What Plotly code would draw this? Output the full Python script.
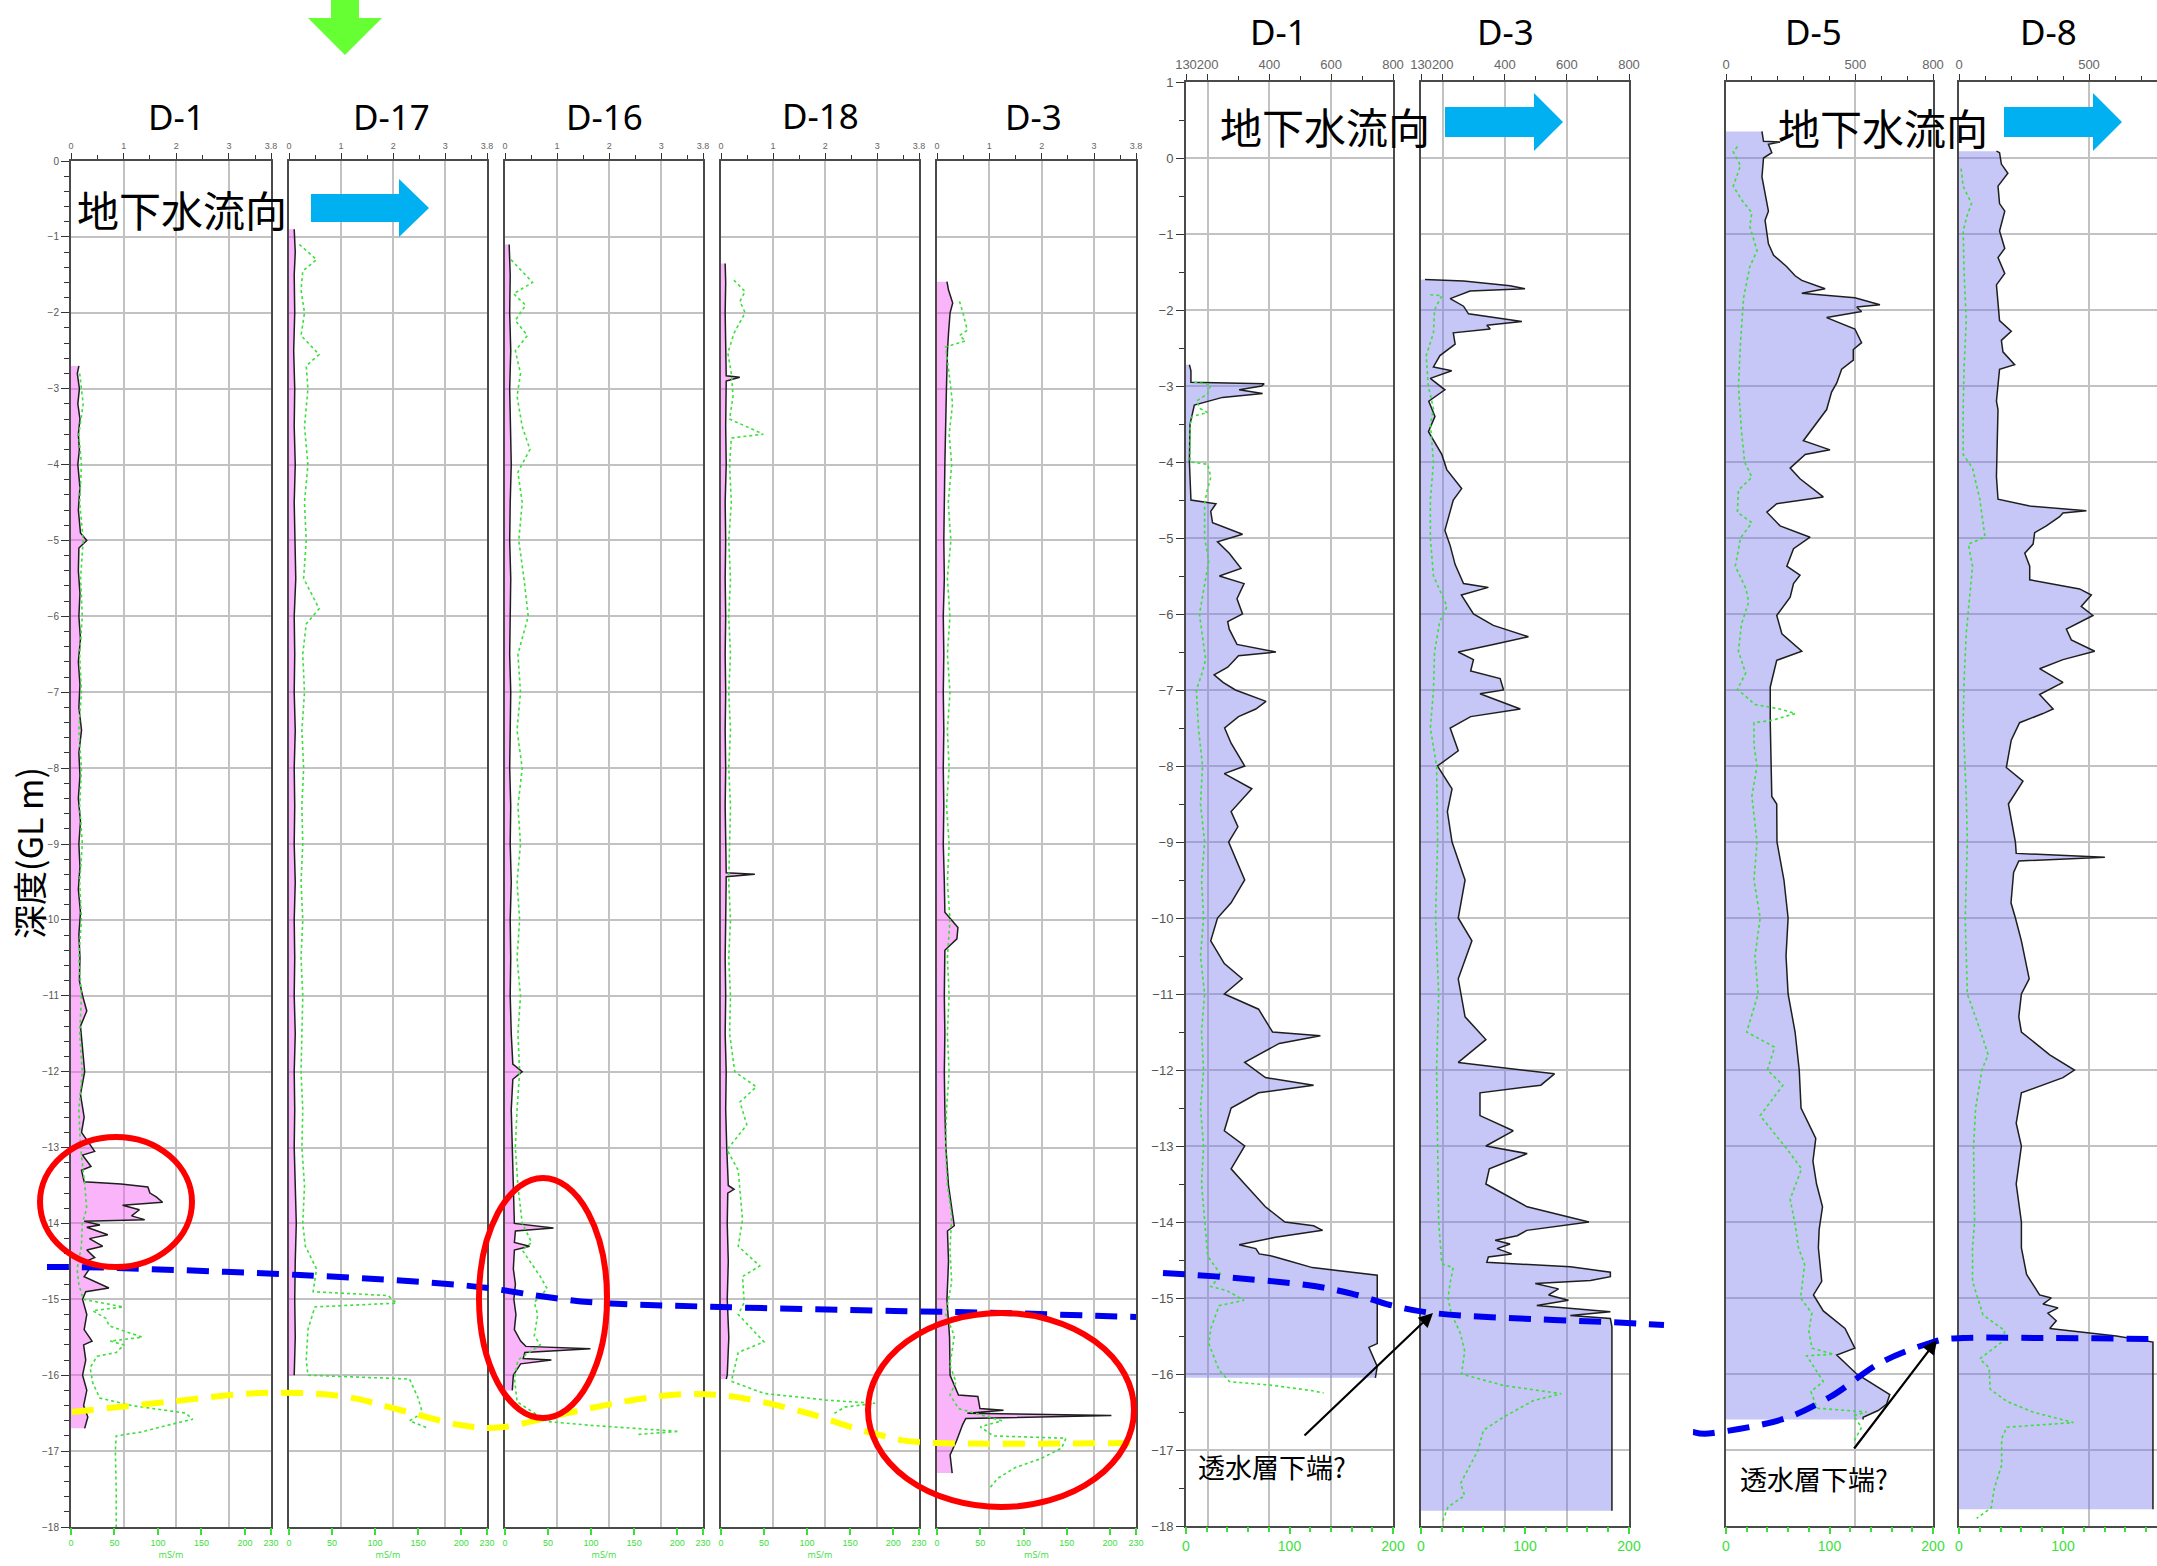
import plotly.graph_objects as go

W, H = 2157, 1566

# ======================= DATA =======================
# Left group (5 wells): top axis 0-3.8 (black line, pink fill), bottom axis 0-230 mS/m (green)
a1_res_depth = [-2.70,-2.80,-3.00,-3.20,-3.40,-3.60,-3.80,-4.00,-4.30,-4.60,-4.90,-5.00,-5.10,-5.40,-5.70,-6.00,-6.30,-6.60,-6.90,-7.20,-7.50,-7.80,-8.10,-8.40,-8.70,-9.00,-9.30,-9.60,-9.90,-10.20,-10.50,-10.80,-11.00,-11.20,-11.40,-11.70,-12.00,-12.30,-12.60,-12.80,-13.05,-13.10,-13.25,-13.30,-13.45,-13.48,-13.52,-13.60,-13.65,-13.72,-13.76,-13.82,-13.90,-13.95,-13.97,-14.02,-14.05,-14.15,-14.20,-14.30,-14.35,-14.45,-14.50,-14.60,-14.70,-14.85,-14.90,-15.00,-15.20,-15.40,-15.55,-15.60,-15.80,-16.00,-16.20,-16.40,-16.55,-16.70]
a1_res_val = [0.15,0.12,0.16,0.13,0.17,0.14,0.16,0.13,0.17,0.14,0.18,0.30,0.15,0.14,0.17,0.15,0.18,0.14,0.17,0.15,0.20,0.15,0.17,0.14,0.18,0.15,0.17,0.14,0.18,0.15,0.17,0.16,0.22,0.30,0.18,0.22,0.26,0.18,0.25,0.20,0.45,0.22,0.38,0.20,0.25,0.95,1.46,1.50,1.62,1.74,0.98,1.30,1.15,1.40,0.25,0.55,0.30,0.70,0.35,0.60,0.30,0.45,0.28,0.35,0.25,0.72,0.28,0.22,0.30,0.25,0.40,0.24,0.28,0.22,0.30,0.24,0.32,0.26]
a1_con_depth = [-2.80,-3.20,-3.60,-4.00,-4.50,-5.00,-5.50,-6.00,-6.50,-7.00,-7.50,-8.00,-8.50,-9.00,-9.50,-10.00,-10.50,-11.00,-11.50,-12.00,-12.50,-13.00,-13.50,-13.80,-14.00,-14.30,-14.60,-14.80,-15.00,-15.10,-15.15,-15.25,-15.35,-15.50,-15.55,-15.60,-15.70,-15.75,-15.90,-16.10,-16.30,-16.40,-16.50,-16.58,-16.62,-16.75,-16.80,-17.00,-17.50,-18.00]
a1_con_val = [10,14,9,12,10,14,11,13,10,12,9,12,10,13,10,12,9,12,10,13,9,11,16,18,13,12,7,9,14,60,25,40,44,82,45,61,52,30,22,25,33,70,132,140,125,80,52,51,52,52]

a17_res_depth = [-0.90,-1.20,-1.50,-2.00,-2.50,-3.00,-3.50,-4.00,-4.50,-5.00,-5.50,-6.00,-6.50,-7.00,-7.50,-8.00,-8.50,-9.00,-9.50,-10.00,-10.50,-11.00,-11.50,-12.00,-12.50,-13.00,-13.50,-14.00,-14.50,-15.00,-15.50,-16.00]
a17_res_val = [0.10,0.12,0.10,0.11,0.09,0.11,0.10,0.12,0.10,0.11,0.13,0.10,0.11,0.10,0.12,0.10,0.11,0.10,0.12,0.10,0.11,0.10,0.12,0.10,0.11,0.10,0.12,0.14,0.12,0.11,0.12,0.10]
a17_con_depth = [-1.10,-1.30,-1.45,-1.70,-2.00,-2.30,-2.55,-2.70,-3.00,-3.50,-4.00,-4.50,-5.00,-5.50,-5.90,-6.10,-6.50,-7.00,-7.50,-8.00,-8.50,-9.00,-9.50,-10.00,-10.50,-11.00,-11.50,-12.00,-12.50,-13.00,-13.50,-14.00,-14.30,-14.60,-14.90,-14.95,-15.05,-15.10,-15.40,-15.80,-16.00,-16.05,-16.30,-16.50,-16.60,-16.70]
a17_con_val = [12,32,16,14,18,14,35,20,22,18,22,18,20,17,35,20,16,18,15,17,15,16,14,16,14,16,15,14,16,15,18,16,19,32,28,115,125,30,22,20,22,140,150,155,140,162]

a16_res_depth = [-1.10,-1.50,-2.00,-2.50,-3.00,-3.50,-4.00,-4.50,-5.00,-5.50,-6.00,-6.50,-7.00,-7.50,-8.00,-8.50,-9.00,-9.50,-10.00,-10.50,-11.00,-11.50,-11.90,-12.00,-12.10,-12.50,-13.00,-13.50,-14.00,-14.06,-14.10,-14.25,-14.30,-14.35,-14.60,-14.80,-15.00,-15.20,-15.40,-15.55,-15.62,-15.65,-15.70,-15.78,-15.80,-15.85,-16.00,-16.20]
a16_res_val = [0.08,0.10,0.09,0.11,0.09,0.10,0.12,0.10,0.09,0.11,0.10,0.09,0.11,0.10,0.09,0.11,0.10,0.12,0.10,0.11,0.10,0.12,0.15,0.33,0.15,0.12,0.14,0.16,0.18,0.93,0.20,0.18,0.47,0.18,0.16,0.20,0.17,0.21,0.18,0.30,0.40,1.64,0.38,0.35,0.89,0.30,0.16,0.14]
a16_con_depth = [-1.30,-1.60,-1.75,-1.90,-2.10,-2.30,-2.50,-2.80,-3.10,-3.50,-3.80,-4.10,-4.50,-5.00,-5.50,-6.00,-6.50,-7.00,-7.50,-8.00,-8.50,-9.00,-9.50,-10.00,-10.50,-11.00,-11.50,-12.00,-12.50,-13.00,-13.50,-14.00,-14.25,-14.35,-14.70,-14.86,-15.04,-15.20,-15.48,-15.60,-15.80,-16.04,-16.35,-16.61,-16.66,-16.74,-16.78]
a16_con_val = [7,32,10,24,12,26,12,18,14,20,29,15,20,16,22,27,15,18,14,20,15,18,14,17,14,18,15,17,14,12,15,20,31,20,41,49,34,38,34,41,15,11,14,49,99,202,155]

a18_res_depth = [-1.35,-1.60,-2.00,-2.50,-2.83,-2.85,-2.90,-3.50,-4.00,-4.50,-5.00,-5.50,-6.00,-6.50,-7.00,-7.50,-8.00,-8.50,-9.00,-9.38,-9.40,-9.43,-10.00,-10.50,-11.00,-11.50,-12.00,-12.50,-13.00,-13.50,-13.55,-13.60,-14.00,-14.50,-15.00,-15.50,-16.00,-16.05]
a18_res_val = [0.08,0.09,0.08,0.10,0.10,0.36,0.10,0.09,0.10,0.08,0.09,0.08,0.09,0.08,0.09,0.08,0.09,0.08,0.09,0.10,0.65,0.10,0.09,0.08,0.09,0.08,0.10,0.09,0.11,0.14,0.25,0.13,0.12,0.14,0.12,0.15,0.12,0.10]
a18_con_depth = [-1.57,-1.72,-1.85,-2.00,-2.27,-2.53,-2.80,-3.10,-3.40,-3.60,-3.65,-4.00,-4.50,-5.00,-5.50,-6.00,-6.50,-7.00,-7.50,-8.00,-8.50,-9.00,-9.50,-10.00,-10.50,-11.00,-11.50,-12.00,-12.20,-12.40,-12.70,-13.03,-13.30,-13.95,-14.30,-14.56,-14.70,-15.04,-15.20,-15.56,-15.70,-16.08,-16.24,-16.30,-16.33,-16.37,-16.42,-16.52]
a18_con_val = [15,28,22,28,15,8,12,14,10,49,12,10,12,9,11,9,11,9,11,9,11,10,9,11,9,11,10,16,41,22,30,7,20,25,20,45,25,27,20,50,20,12,50,100,124,179,144,129]

a3_res_depth = [-1.59,-1.70,-1.87,-2.00,-2.27,-2.50,-3.00,-3.50,-4.00,-4.50,-5.00,-5.50,-6.00,-6.50,-7.00,-7.50,-8.00,-8.50,-9.00,-9.50,-9.90,-10.10,-10.25,-10.40,-11.00,-11.50,-12.00,-12.50,-13.00,-13.50,-14.03,-14.10,-14.50,-15.00,-15.50,-16.00,-16.26,-16.28,-16.44,-16.46,-16.50,-16.53,-16.57,-16.65,-16.87,-17.05,-17.29]
a3_res_val = [0.19,0.22,0.30,0.25,0.22,0.20,0.18,0.16,0.15,0.14,0.13,0.14,0.12,0.13,0.12,0.13,0.12,0.13,0.12,0.14,0.15,0.40,0.38,0.15,0.14,0.15,0.14,0.15,0.17,0.22,0.33,0.20,0.22,0.19,0.24,0.25,0.41,0.78,0.82,1.27,0.58,3.33,0.55,0.49,0.37,0.25,0.29]
a3_con_depth = [-1.85,-2.00,-2.23,-2.30,-2.37,-2.45,-2.80,-3.20,-3.60,-4.00,-4.50,-5.00,-5.50,-6.00,-6.50,-7.00,-7.50,-8.00,-8.50,-9.00,-9.50,-10.00,-10.50,-11.00,-11.50,-12.00,-12.50,-13.03,-13.50,-13.90,-14.34,-14.77,-15.20,-15.48,-15.87,-16.09,-16.26,-16.44,-16.60,-16.68,-16.80,-16.83,-16.96,-17.10,-17.22,-17.36,-17.50]
a3_con_val = [26,30,35,26,33,10,14,18,14,17,13,16,12,15,12,15,12,14,11,14,12,15,12,14,12,14,11,10,12,17,15,17,10,20,15,22,15,25,75,50,65,149,144,120,90,70,60]

# Middle group (2 wells): top axis 130-800, bottom axis 0-200 mS/m, depth +1..-18
b1_res_depth = [-2.72,-2.80,-2.95,-2.97,-3.00,-3.05,-3.10,-3.15,-3.25,-3.50,-4.00,-4.50,-4.55,-4.65,-4.80,-4.95,-5.05,-5.20,-5.40,-5.50,-5.60,-5.80,-6.00,-6.10,-6.20,-6.40,-6.50,-6.55,-6.70,-6.80,-6.90,-7.00,-7.15,-7.25,-7.35,-7.50,-7.70,-8.00,-8.10,-8.30,-8.60,-8.80,-9.00,-9.30,-9.50,-9.80,-10.00,-10.30,-10.60,-10.80,-11.00,-11.20,-11.50,-11.55,-11.65,-11.90,-12.10,-12.20,-12.30,-12.50,-12.80,-13.00,-13.30,-13.50,-13.80,-14.00,-14.05,-14.11,-14.20,-14.30,-14.35,-14.42,-14.45,-14.50,-14.60,-14.70,-15.60,-15.65,-15.90,-16.05]
b1_res_val = [141,146,146,383,375,302,378,248,157,143,141,146,227,210,216,313,232,270,308,238,318,295,313,265,270,295,421,300,265,221,250,290,389,356,300,255,276,320,254,343,276,298,268,298,320,276,232,210,254,312,254,365,410,565,432,320,387,543,365,276,254,320,276,320,387,450,543,572,420,302,356,367,410,453,539,749,749,722,749,743]
b1_con_depth = [-2.95,-2.98,-3.10,-3.20,-3.30,-3.35,-3.40,-3.50,-4.00,-4.03,-4.20,-4.40,-4.55,-5.00,-5.30,-5.60,-6.00,-6.30,-6.60,-6.80,-7.00,-7.50,-8.00,-8.50,-9.00,-9.50,-10.00,-10.50,-11.00,-11.50,-12.00,-12.50,-13.00,-13.50,-14.00,-14.45,-14.70,-14.85,-14.90,-15.03,-15.10,-15.40,-15.60,-15.95,-16.10,-16.15,-16.22,-16.25]
b1_con_val = [8,24,21,10,14,21,6,4,4,21,24,20,18,18,22,18,13,16,19,15,10,12,16,14,18,15,17,14,18,15,17,14,17,15,18,21,34,24,39,56,32,24,22,32,42,84,122,133]

b3_res_depth = [-1.60,-1.62,-1.68,-1.72,-1.75,-1.85,-1.95,-2.05,-2.15,-2.20,-2.25,-2.30,-2.45,-2.60,-2.75,-2.80,-2.90,-3.05,-3.20,-3.40,-3.60,-3.90,-4.10,-4.35,-4.50,-4.90,-5.10,-5.35,-5.60,-5.65,-5.75,-6.00,-6.15,-6.30,-6.40,-6.50,-6.60,-6.75,-6.85,-7.00,-7.05,-7.25,-7.35,-7.50,-7.80,-8.00,-8.30,-8.60,-9.00,-9.50,-10.00,-10.30,-10.80,-11.30,-11.60,-11.90,-12.05,-12.20,-12.30,-12.60,-12.80,-13.00,-13.10,-13.30,-13.50,-13.80,-14.00,-14.11,-14.18,-14.24,-14.29,-14.35,-14.42,-14.46,-14.53,-14.59,-14.66,-14.72,-14.77,-14.81,-14.88,-14.96,-15.03,-15.10,-15.18,-15.23,-15.27,-15.38,-17.80]
b3_res_val = [143,267,417,465,288,224,267,283,455,342,353,234,240,191,170,229,160,207,155,175,154,197,213,261,234,207,224,240,267,347,260,299,363,476,363,250,299,290,385,396,320,450,290,224,250,183,230,215,230,272,250,294,250,272,339,250,560,516,320,320,427,339,472,350,339,472,671,471,440,369,417,375,422,347,342,611,740,740,676,498,573,541,605,503,740,611,740,745,745]
b3_con_depth = [-1.80,-1.81,-2.00,-2.30,-2.60,-3.00,-3.30,-3.50,-4.00,-4.50,-5.00,-5.50,-5.90,-6.10,-6.50,-7.00,-7.50,-8.00,-9.00,-10.00,-11.00,-12.00,-13.00,-14.00,-14.55,-14.60,-14.80,-15.00,-15.20,-15.47,-15.70,-16.00,-16.15,-16.26,-16.35,-16.57,-16.74,-17.00,-17.44,-17.60,-17.75,-17.97]
b3_con_val = [9,20,13,12,5,7,12,9,12,9,9,12,25,18,13,12,9,15,16,14,17,15,16,17,20,31,28,26,29,38,42,39,79,135,108,79,60,55,38,42,26,20]

# Right group (2 wells): top axis 0-800, bottom axis 0-200 mS/m, depth +1..-18
c5_res_depth = [0.35,0.22,0.21,0.18,0.07,0.00,-0.25,-0.70,-0.82,-1.13,-1.28,-1.43,-1.55,-1.61,-1.72,-1.78,-1.84,-1.93,-1.96,-2.02,-2.10,-2.25,-2.43,-2.52,-2.66,-2.78,-2.96,-3.08,-3.31,-3.55,-3.72,-3.84,-3.90,-4.08,-4.22,-4.46,-4.55,-4.66,-4.84,-4.99,-5.14,-5.37,-5.49,-5.60,-5.78,-6.02,-6.26,-6.49,-6.61,-6.96,-7.08,-7.43,-8.40,-8.50,-9.00,-9.50,-10.00,-10.50,-11.00,-11.50,-12.00,-12.50,-12.90,-13.20,-13.50,-13.80,-14.10,-14.34,-14.78,-14.96,-15.17,-15.40,-15.66,-15.75,-16.00,-16.23,-16.27,-16.40,-16.48,-16.57,-16.60]
c5_res_val = [139,145,209,164,177,145,139,164,151,164,184,235,267,293,383,293,498,595,505,524,389,498,524,492,492,447,428,408,389,338,299,402,306,248,286,376,196,158,209,325,261,235,286,261,248,196,216,293,196,171,171,171,177,196,197,224,240,232,240,267,283,290,347,336,350,373,360,357,370,338,376,460,498,428,505,614,633,620,588,530,530]
c5_con_depth = [0.15,0.08,-0.10,-0.37,-0.55,-0.72,-0.90,-1.13,-1.22,-1.43,-1.84,-2.43,-3.00,-3.60,-4.00,-4.20,-4.37,-4.66,-4.80,-5.00,-5.37,-5.66,-5.84,-6.13,-6.49,-6.78,-6.99,-7.19,-7.25,-7.31,-7.40,-7.43,-7.72,-8.00,-8.40,-9.00,-9.50,-10.00,-10.50,-11.00,-11.50,-11.70,-12.00,-12.20,-12.60,-13.06,-13.30,-13.70,-14.05,-14.34,-14.56,-14.78,-15.00,-15.20,-15.43,-15.66,-15.74,-15.76,-16.10,-16.23,-16.45,-16.50,-16.55,-16.70,-16.90]
c5_con_val = [11,7,14,7,15,25,23,28,30,23,17,14,12,15,18,25,12,11,25,14,9,19,22,15,12,19,11,28,52,67,44,27,27,30,25,30,27,33,28,31,20,47,40,55,33,60,73,62,67,70,76,74,72,83,80,83,104,78,94,82,88,136,123,131,123]

c8_res_depth = [0.09,0.07,-0.08,-0.20,-0.37,-0.60,-0.70,-0.96,-1.19,-1.31,-1.52,-1.67,-2.14,-2.28,-2.40,-2.55,-2.72,-2.78,-3.20,-3.31,-4.19,-4.49,-4.58,-4.64,-4.67,-4.72,-4.84,-4.93,-5.08,-5.20,-5.37,-5.55,-5.67,-5.75,-5.90,-6.02,-6.20,-6.34,-6.49,-6.60,-6.72,-6.90,-7.06,-7.25,-7.31,-7.43,-7.66,-8.02,-8.20,-8.40,-8.50,-9.00,-9.15,-9.20,-9.25,-9.40,-9.80,-10.00,-10.30,-10.80,-11.00,-11.30,-11.50,-11.80,-12.00,-12.10,-12.30,-12.70,-13.00,-13.50,-14.00,-14.34,-14.69,-14.96,-15.00,-15.08,-15.13,-15.20,-15.30,-15.40,-15.50,-15.58,-17.78]
c8_res_val = [144,156,163,188,150,156,176,156,176,150,176,144,156,201,163,169,214,156,144,150,144,150,272,490,400,387,336,291,285,253,272,272,464,509,470,515,413,432,522,400,310,400,310,362,323,233,201,182,246,208,190,217,220,561,230,210,200,217,240,270,240,230,240,349,444,400,240,220,240,220,240,240,260,310,355,323,381,342,374,349,605,746,746]
c8_con_depth = [-0.14,-0.37,-0.60,-0.75,-0.96,-1.55,-2.14,-2.72,-3.31,-3.90,-4.08,-4.49,-4.99,-5.08,-5.37,-6.25,-6.84,-7.43,-8.40,-9.00,-10.00,-11.00,-11.50,-11.80,-12.00,-12.50,-13.00,-14.00,-14.34,-14.78,-15.22,-15.43,-15.57,-15.80,-15.92,-16.20,-16.36,-16.50,-16.64,-16.70,-16.85,-17.20,-17.50,-17.76,-17.90]
c8_con_val = [2,4,12,8,4,5,7,5,4,4,13,20,25,9,13,7,5,4,7,8,6,8,21,28,22,16,14,15,13,13,23,44,42,20,29,30,46,71,110,46,41,41,34,31,17]

# tick labels
a_top_ticks = [0, 1, 2, 3, 3.8]
a_bot_ticks = [0, 50, 100, 150, 200, 230]
b_top_ticks = [130, 200, 400, 600, 800]
c_top_ticks = [0, 500, 800]
bc_bot_ticks = [0, 100, 200]

# ======================= LAYOUT HELPERS =======================
def fx(x):
    return x / W

def fy(y):
    return 1 - y / H

GREEN = '#3BE03B'
GRID = '#C2C2C2'
FRAME = '#4A4A4A'

groups = {
    'A': dict(top_range=[0, 3.8], top_ticks=a_top_ticks, top_text=['0', '1', '2', '3', '3.8'],
              top_minor=[0.5, 1.5, 2.5, 3.5], top_font=9,
              bot_range=[0, 230], bot_ticks=a_bot_ticks, bot_minor=None, bot_font=9, bot_title=True,
              y_range=[-18, 0], y_px=(161, 1527), y_minor=0.2, y_font=10,
              fill='rgba(245,90,245,0.45)'),
    'B': dict(top_range=[130, 800], top_ticks=b_top_ticks, top_text=[str(v) for v in b_top_ticks],
              top_minor=[300, 500, 700], top_font=13,
              bot_range=[0, 200], bot_ticks=bc_bot_ticks, bot_minor=20, bot_font=14, bot_title=False,
              y_range=[-18, 1], y_px=(82, 1526), y_minor=0.5, y_font=13,
              fill='rgba(120,120,235,0.42)'),
    'C': dict(top_range=[0, 800], top_ticks=c_top_ticks, top_text=[str(v) for v in c_top_ticks],
              top_minor=[100, 200, 300, 400, 600, 700], top_font=13,
              bot_range=[0, 200], bot_ticks=bc_bot_ticks, bot_minor=20, bot_font=14, bot_title=False,
              y_range=[-18, 1], y_px=(82, 1526), y_minor=0.5, y_font=13,
              fill='rgba(120,120,235,0.42)'),
}

panels = [
    dict(name='D-1', g='A', x=(71, 271), ylab=True, t=(176, 116), r=(a1_res_depth, a1_res_val), c=(a1_con_depth, a1_con_val)),
    dict(name='D-17', g='A', x=(289, 487), ylab=False, t=(391, 117), r=(a17_res_depth, a17_res_val), c=(a17_con_depth, a17_con_val)),
    dict(name='D-16', g='A', x=(505, 703), ylab=False, t=(604, 117), r=(a16_res_depth, a16_res_val), c=(a16_con_depth, a16_con_val)),
    dict(name='D-18', g='A', x=(721, 919), ylab=False, t=(820, 115), r=(a18_res_depth, a18_res_val), c=(a18_con_depth, a18_con_val)),
    dict(name='D-3', g='A', x=(937, 1136), ylab=False, t=(1033, 117), r=(a3_res_depth, a3_res_val), c=(a3_con_depth, a3_con_val)),
    dict(name='D-1', g='B', x=(1186, 1393), ylab=True, t=(1278, 31), r=(b1_res_depth, b1_res_val), c=(b1_con_depth, b1_con_val)),
    dict(name='D-3', g='B', x=(1421, 1629), ylab=False, t=(1506, 31), r=(b3_res_depth, b3_res_val), c=(b3_con_depth, b3_con_val)),
    dict(name='D-5', g='C', x=(1726, 1933), ylab=False, t=(1813, 31), r=(c5_res_depth, c5_res_val), c=(c5_con_depth, c5_con_val)),
    dict(name='D-8', g='C', x=(1959, 2167), ylab=False, t=(2048, 31), r=(c8_res_depth, c8_res_val), c=(c8_con_depth, c8_con_val)),
]

fig = go.Figure()
layout = {}
annotations = []

for i, p in enumerate(panels, start=1):
    g = groups[p['g']]
    it, ib = 2 * i - 1, 2 * i
    xt, xb, yy = f'x{it}', f'x{ib}', f'y{i}'
    kt = 'xaxis' if it == 1 else f'xaxis{it}'
    kb = f'xaxis{ib}'
    ky = 'yaxis' if i == 1 else f'yaxis{i}'

    x0, x1 = p['x']
    top_range = list(g['top_range'])
    bot_range = list(g['bot_range'])
    clipped = x1 > W
    if clipped:  # panel runs off the right edge of the picture
        frac = (W - x0) / (x1 - x0)
        top_range[1] = top_range[0] + (top_range[1] - top_range[0]) * frac
        bot_range[1] = bot_range[0] + (bot_range[1] - bot_range[0]) * frac
        x1 = W
    dom = [fx(x0), fx(x1)]
    ydom = [fy(g['y_px'][1]), fy(g['y_px'][0])]

    tvals = [v for v in g['top_ticks'] if v <= top_range[1]]
    ttext = [t for v, t in zip(g['top_ticks'], g['top_text']) if v <= top_range[1]]
    bvals = [v for v in g['bot_ticks'] if v <= bot_range[1]]

    layout[kt] = dict(domain=dom, range=top_range, side='top', anchor=yy,
                      showgrid=True, gridcolor=GRID, gridwidth=1.5,
                      tickmode='array', tickvals=tvals, ticktext=ttext, tickangle=0,
                      ticks='outside', ticklen=6, tickcolor='#333', tickwidth=1,
                      tickfont=dict(size=g['top_font'], color='#666', family='Liberation Sans'),
                      showline=True, linecolor=FRAME, linewidth=2, mirror=True,
                      zeroline=False,
                      minor=dict(tickvals=g['top_minor'], ticks='outside', ticklen=4,
                                 tickcolor='#333', showgrid=False))
    bminor = dict(ticks='outside', ticklen=5, tickcolor=GREEN, showgrid=False)
    if g['bot_minor']:
        bminor['dtick'] = g['bot_minor']
    else:
        bminor['ticks'] = ''
    bax = dict(domain=dom, range=bot_range, side='bottom', anchor=yy, overlaying=xt,
               showgrid=False, zeroline=False, showline=False,
               tickmode='array', tickvals=bvals, tickangle=0,
               ticks='outside', ticklen=7, tickcolor=GREEN, tickwidth=1.5,
               tickfont=dict(size=g['bot_font'], color=GREEN, family='Liberation Sans'),
               minor=bminor)
    if g['bot_title']:
        bax['title'] = dict(text='mS/m', font=dict(size=g['bot_font'], color=GREEN), standoff=3)
    layout[kb] = bax
    ytv = list(range(int(g['y_range'][0]), int(g['y_range'][1]) + 1))
    ya = dict(domain=ydom, range=g['y_range'], anchor=xt,
              showgrid=True, gridcolor=GRID, gridwidth=1.5,
              tickmode='array', tickvals=ytv,
              showline=True, linecolor=FRAME, linewidth=2, mirror=not clipped,
              zeroline=False, showticklabels=p['ylab'])
    if p['ylab']:
        ya.update(ticks='outside', ticklen=8, tickcolor='#333',
                  tickfont=dict(size=g['y_font'], color='#555', family='Liberation Sans'),
                  minor=dict(dtick=g['y_minor'], ticks='outside', ticklen=5, tickcolor='#333', showgrid=False))
    else:
        ya.update(ticks='')
    layout[ky] = ya

    rd, rv = p['r']
    cd, cv = p['c']
    fig.add_trace(go.Scatter(x=rv, y=rd, xaxis=xt, yaxis=yy, mode='lines',
                             line=dict(color='#1E1E1E', width=1.5), fill='tozerox',
                             fillcolor=g['fill'], hoverinfo='skip', showlegend=False))
    fig.add_trace(go.Scatter(x=cv, y=cd, xaxis=xb, yaxis=yy, mode='lines',
                             line=dict(color=GREEN, width=1.6, dash='dot'),
                             hoverinfo='skip', showlegend=False))

    annotations.append(dict(text=p['name'], x=fx(p['t'][0]), y=fy(p['t'][1]), xref='paper', yref='paper',
                            showarrow=False, xanchor='center', yanchor='middle',
                            font=dict(size=35, color='black', family='Noto Sans')))

# ---------- annotation overlay geometry (pixels) ----------
def smooth_path(pts):
    P = [(fx(x), fy(y)) for x, y in pts]
    d = f"M {P[0][0]:.5f},{P[0][1]:.5f}"
    for k in range(len(P) - 1):
        p0 = P[k - 1] if k > 0 else P[k]
        p1, p2 = P[k], P[k + 1]
        p3 = P[k + 2] if k + 2 < len(P) else P[k + 1]
        c1 = (p1[0] + (p2[0] - p0[0]) / 6, p1[1] + (p2[1] - p0[1]) / 6)
        c2 = (p2[0] - (p3[0] - p1[0]) / 6, p2[1] - (p3[1] - p1[1]) / 6)
        d += f" C {c1[0]:.5f},{c1[1]:.5f} {c2[0]:.5f},{c2[1]:.5f} {p2[0]:.5f},{p2[1]:.5f}"
    return d

def poly_path(pts):
    return 'M ' + ' L '.join(f"{fx(x):.5f},{fy(y):.5f}" for x, y in pts) + ' Z'

blue_a = [(47, 1267), (117, 1268), (300, 1275), (460, 1285), (547, 1297), (603, 1303), (720, 1307), (894, 1311), (1002, 1313), (1136, 1317)]
blue_b = [(1163, 1273), (1223, 1277), (1307, 1285), (1357, 1295), (1390, 1305), (1433, 1313), (1507, 1318), (1607, 1322), (1664, 1325)]
blue_c = [(1693, 1432), (1713, 1433), (1780, 1420), (1830, 1397), (1880, 1363), (1930, 1343), (1963, 1338), (2047, 1338), (2157, 1339)]
yellow = [(72, 1412), (167, 1402), (260, 1393), (340, 1396), (400, 1410), (460, 1425), (503, 1427), (568, 1413),
          (633, 1400), (690, 1394), (742, 1398), (807, 1413), (872, 1433), (937, 1443), (1140, 1443)]
ellipses = [(116, 1202, 76, 65), (543, 1298, 64, 120), (1001, 1410, 133, 97)]
cyan_arrows = [
    [(311, 194), (399, 194), (399, 179), (429, 208), (399, 237), (399, 222), (311, 222)],
    [(1445, 107), (1534, 107), (1534, 93), (1563, 122), (1534, 151), (1534, 137), (1445, 137)],
    [(2004, 107), (2093, 107), (2093, 93), (2122, 122), (2093, 151), (2093, 137), (2004, 137)],
]
green_arrow = [(331, 0), (359, 0), (359, 18), (382, 18), (345, 55), (308, 18), (331, 18)]
flow_text = [(182, 209), (1325, 125), (1883, 127)]
perm_text = [(1272, 1466), (1814, 1478)]
perm_arrows = [((1303, 1437), (1433, 1313)), ((1853, 1450), (1937, 1340))]

shapes = []
for pts in (blue_a, blue_b, blue_c):
    shapes.append(dict(type='path', xref='paper', yref='paper', path=smooth_path(pts), layer='above',
                       line=dict(color='#0000F0', width=6, dash='22px,13px')))
shapes.append(dict(type='path', xref='paper', yref='paper', path=smooth_path(yellow), layer='above',
                   line=dict(color='#FFFF00', width=6, dash='22px,13px')))
for cx, cy, rx, ry in ellipses:
    shapes.append(dict(type='circle', xref='paper', yref='paper', layer='above',
                       x0=fx(cx - rx), x1=fx(cx + rx), y0=fy(cy + ry), y1=fy(cy - ry),
                       line=dict(color='#FF0000', width=6)))
for pts in cyan_arrows:
    shapes.append(dict(type='path', xref='paper', yref='paper', path=poly_path(pts), layer='above',
                       fillcolor='#00B0F0', line=dict(width=0)))
shapes.append(dict(type='path', xref='paper', yref='paper', path=poly_path(green_arrow), layer='above',
                   fillcolor='#66FF33', line=dict(width=0)))

for tx, ty in flow_text:
    annotations.append(dict(text='地下水流向', x=fx(tx), y=fy(ty), xref='paper', yref='paper', showarrow=False,
                            xanchor='center', yanchor='middle',
                            font=dict(size=42, color='black', family='Noto Sans CJK JP')))
for tx, ty in perm_text:
    annotations.append(dict(text='透水層下端?', x=fx(tx), y=fy(ty), xref='paper', yref='paper', showarrow=False,
                            xanchor='center', yanchor='middle',
                            font=dict(size=27, color='black', family='Noto Sans CJK JP')))
for (sx, sy), (ex, ey) in perm_arrows:
    annotations.append(dict(text='', x=fx(ex), y=fy(ey), xref='paper', yref='paper', showarrow=True,
                            ax=sx - ex, ay=sy - ey, axref='pixel', ayref='pixel',
                            arrowhead=2, arrowsize=1.3, arrowwidth=2.2, arrowcolor='black'))
annotations.append(dict(text='深度(GL m)', x=fx(28), y=fy(853), xref='paper', yref='paper', showarrow=False,
                        textangle=-90, xanchor='center', yanchor='middle',
                        font=dict(size=34, color='black', family='Noto Sans CJK JP')))

fig.update_layout(width=W, height=H, margin=dict(l=0, r=0, t=0, b=0, autoexpand=False),
                  paper_bgcolor='white', plot_bgcolor='white', showlegend=False,
                  shapes=shapes, annotations=annotations, **layout)

fig.write_html('out.html', config={'displayModeBar': False},
               post_script="document.body.style.margin='0px';document.body.style.overflow='hidden';")
